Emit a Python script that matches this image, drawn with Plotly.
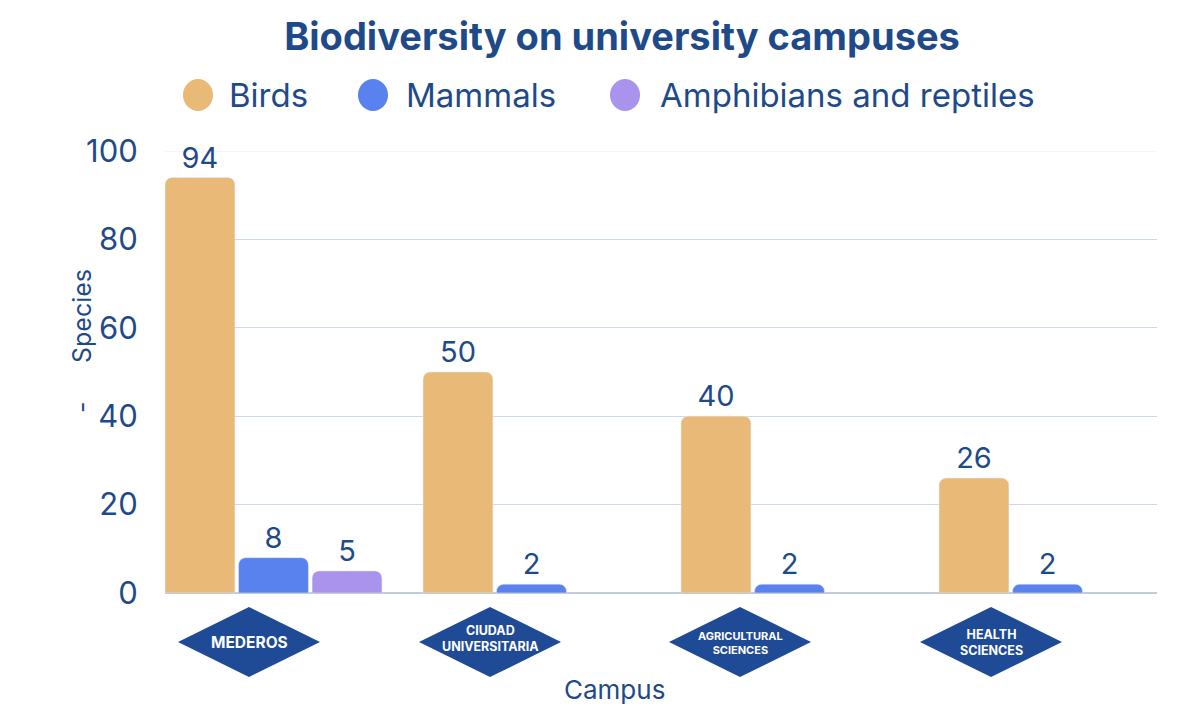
import plotly.graph_objects as go

campuses = ["MEDEROS", "CIUDAD<br>UNIVERSITARIA", "AGRICULTURAL<br>SCIENCES", "HEALTH<br>SCIENCES"]
campus_font_sizes = [15.5, 12.5, 11, 12.5]
series_names = ["Birds", "Mammals", "Amphibians and reptiles"]
birds = [94, 50, 40, 26]
mammals = [8, 2, 2, 2]
amphibians = [5, None, None, None]
colors = ["#E8B977", "#5A82EF", "#A993EC"]
y_ticks = [0, 20, 40, 60, 80, 100]

# layout positions (screen pixels of the target)
label_px = [249, 490, 740, 991]
label_text_py = [642, 638, 643, 642]
legend_circle_px = [198, 373, 625]
legend_text_px = [227, 404, 658]

TXT = "#1F4A8A"
FONT = "Inter"
OFF = 8  # page body margin

W, H = 1204 - OFF, 720 - OFF
L, T = 165 - OFF, 151 - OFF
R = (1204 - OFF) - (1157 - OFF)
B = (720 - OFF) - (593 - OFF)
pw, ph = W - L - R, H - T - B


def px_x(sx):
    return (sx - OFF - L) / pw


def px_y(sy):
    return 1 - (sy - OFF - T) / ph


x = list(range(len(campuses)))
fig = go.Figure()
for name, vals, col in zip(series_names, [birds, mammals, amphibians], colors):
    fig.add_trace(go.Bar(
        x=x, y=vals, name=name, marker=dict(color=col, cornerradius=7),
        text=[("" if v is None else str(v)) for v in vals],
        textposition="outside", cliponaxis=False,
        textfont=dict(size=29, color=TXT, family=FONT),
        showlegend=False,
    ))

shapes = [dict(type="line", xref="paper", yref="y", x0=0, x1=1, y0=100, y1=100,
               line=dict(color="#E9EDF2", width=1), layer="below")]
annotations = []
# diamond category labels
for lab, sx, sy, fs in zip(campuses, label_px, label_text_py, campus_font_sizes):
    shapes.append(dict(
        type="path", xref="paper", yref="paper",
        xsizemode="pixel", ysizemode="pixel",
        xanchor=px_x(sx), yanchor=px_y(642),
        path="M -71 0 L 0 35 L 71 0 L 0 -35 Z",
        fillcolor="#1F4A96", line=dict(width=0),
    ))
    annotations.append(dict(
        text=f"<b>{lab}</b>", x=px_x(sx), y=px_y(sy), xref="paper", yref="paper",
        showarrow=False, font=dict(size=fs, color="white", family=FONT),
        xanchor="center", yanchor="middle", align="center",
    ))

# legend
for name, col, cx, tx in zip(series_names, colors, legend_circle_px, legend_text_px):
    ya = px_y(95)
    shapes.append(dict(
        type="circle", xref="paper", yref="paper",
        xsizemode="pixel", ysizemode="pixel",
        xanchor=px_x(cx), yanchor=ya, x0=-15, x1=15, y0=-16, y1=16,
        fillcolor=col, line=dict(width=0),
    ))
    annotations.append(dict(
        text=name, x=px_x(tx), y=ya, xref="paper", yref="paper",
        showarrow=False, xanchor="left", yanchor="middle",
        font=dict(size=33, color=TXT, family=FONT),
    ))

# y axis title pieces
annotations.append(dict(text="Species", textangle=-90, x=px_x(65), y=px_y(316),
                        xref="paper", yref="paper", showarrow=False,
                        font=dict(size=25, color=TXT, family=FONT)))
annotations.append(dict(text="-", textangle=-90, x=px_x(65), y=px_y(407),
                        xref="paper", yref="paper", showarrow=False,
                        font=dict(size=25, color=TXT, family=FONT)))
# x axis title
annotations.append(dict(text="Campus", x=px_x(614), y=px_y(707),
                        xref="paper", yref="paper", showarrow=False,
                        xanchor="center", yanchor="bottom",
                        font=dict(size=26, color=TXT, family=FONT)))

fig.update_layout(
    width=W, height=H,
    margin=dict(l=L, r=R, t=T, b=B),
    paper_bgcolor="white", plot_bgcolor="white",
    barmode="group", bargap=0.145, bargroupgap=0.05,
    title=dict(text="<b>Biodiversity on university campuses</b>",
               x=(622 - OFF) / W, xanchor="center",
               y=1 - (37 - OFF) / H, yanchor="middle",
               font=dict(size=38, color=TXT, family=FONT)),
    font=dict(family=FONT, color=TXT),
    xaxis=dict(range=[-0.4205, 3.4244], showticklabels=False, showgrid=False,
               zeroline=False, showline=False, fixedrange=True),
    yaxis=dict(range=[0, 100], tickvals=y_ticks, showgrid=True, gridcolor="#CCDAEA",
               gridwidth=1, zeroline=True, zerolinecolor="#C3CCD8", zerolinewidth=1.5,
               ticks="outside", ticklen=20, tickcolor="rgba(0,0,0,0)",
               tickfont=dict(size=31, color=TXT, family=FONT)),
    shapes=shapes, annotations=annotations,
    showlegend=False,
)

fig.write_html("out.html")
